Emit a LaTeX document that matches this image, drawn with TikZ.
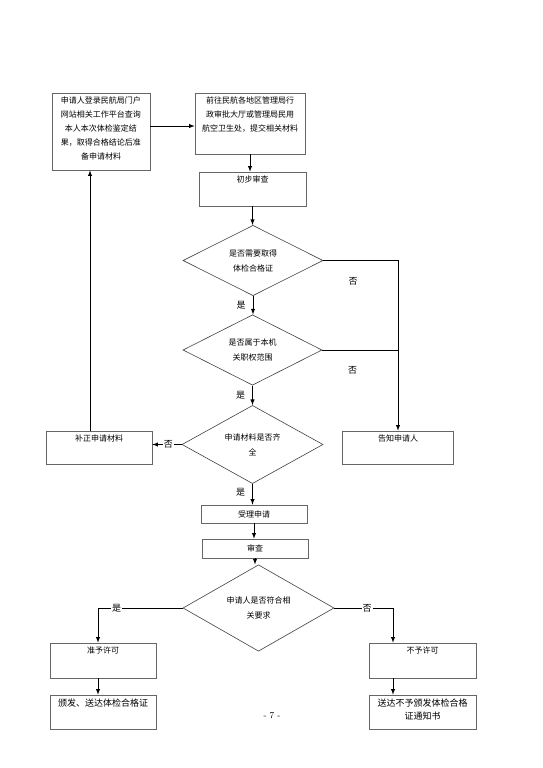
\documentclass[tikz,border=0pt]{standalone}
\usepackage{fontspec}
\newfontfamily\cjk{Noto Sans CJK SC}
\usetikzlibrary{arrows,shapes.geometric,positioning}

% box text: fixed size, lines set from the top
\newcommand{\boxlines}[3]{\parbox[c][#2][t]{#1}{\centering\vspace*{4pt}#3}}

\begin{document}
\begin{tikzpicture}[
x=1pt,y=-1pt,
font=\cjk\fontsize{8}{14}\selectfont,
procbox/.style={draw=black!60,line width=0.6pt,rectangle,inner sep=0pt},
choice/.style={draw=black!75,line width=0.6pt,diamond,inner sep=0pt,align=center,
  font=\cjk\fontsize{8}{15}\selectfont},
flow/.style={->,>=latex,line width=0.95pt},
joint/.style={line width=0.8pt},
tag/.style={font=\cjk\fontsize{9}{9}\selectfont,inner sep=1pt}]
    \useasboundingbox (0,0) rectangle (543,768);

    % helper coordinates for offset connectors
    \coordinate (handy) at (0,126);
    \coordinate (backx) at (90,0);
    \coordinate (yesx) at (98,0);
    \coordinate (nox) at (393,0);

    % Boxes
    \node[procbox] (login) at (101,131.5)
        {\boxlines{98pt}{77pt}{申请人登录民航局门户\\网站相关工作平台查询\\本人本次体检鉴定结\\果，取得合格结论后准\\备申请材料}};
    \node[procbox] (apply) at (250,123.5)
        {\boxlines{110pt}{61pt}{前往民航各地区管理局行\\政审批大厅或管理局民用\\航空卫生处，提交相关材料}};
    \node[procbox] (precheck) at (252.5,189)
        {\boxlines{107pt}{34pt}{初步审查}};
    \node[choice,minimum width=140pt,minimum height=69pt] (need) at (253,260.5)
        {是否需要取得\\体检合格证};
    \node[choice,minimum width=139pt,minimum height=66pt] (remit) at (252.5,350)
        {是否属于本机\\关职权范围};
    \node[choice,minimum width=141pt,minimum height=69pt] (complete) at (252.5,444.5)
        {申请材料是否齐\\全};
    \node[procbox] (fix) at (99,447.5)
        {\boxlines{106pt}{33pt}{补正申请材料}};
    \node[procbox] (tell) at (398,447.5)
        {\boxlines{111pt}{33pt}{告知申请人}};
    \node[procbox] (accept) at (254,514)
        {\parbox[c][18pt][c]{106pt}{\centering 受理申请}};
    \node[procbox] (review) at (255,548.5)
        {\parbox[c][19pt][c]{106pt}{\centering 审查}};
    \node[choice,minimum width=151pt,minimum height=68pt] (meet) at (258.5,608)
        {申请人是否符合相\\关要求};
    \node[procbox] (grant) at (103,660.5)
        {\boxlines{106pt}{35pt}{准予许可}};
    \node[procbox] (deny) at (422.5,660.5)
        {\boxlines{107pt}{35pt}{不予许可}};
    \node[procbox,font=\cjk\fontsize{9}{13}\selectfont] (issue) at (103,712)
        {\boxlines{106pt}{34pt}{颁发、送达体检合格证}};
    \node[procbox,font=\cjk\fontsize{9}{13}\selectfont] (notice) at (422.5,712)
        {\boxlines{107pt}{34pt}{送达不予颁发体检合格\\证通知书}};

    \node[font=\rmfamily\fontsize{9}{9}\selectfont] (pagenum) at (272,716) {- 7 -};

    % Connectors
    \draw[flow] (login.east |- handy) -- (apply.west |- handy);
    \draw[flow] (apply.south) -- (apply.south |- precheck.north);
    \draw[flow] (precheck.south) -- (precheck.south |- need.north);
    \draw[flow] (need.south) -- node[tag,left=6pt]{是} (need.south |- remit.north);
    \draw[flow] (remit.south) -- node[tag,left=6pt]{是} (remit.south |- complete.north);
    \draw[flow] (need.east) -- node[tag,pos=0.4,below=15pt]{否} (need.east -| tell.north) -- (tell.north);
    \draw[joint] (remit.east) -- node[tag,pos=0.4,below=15pt]{否} (remit.east -| tell.north);
    \draw[flow] (complete.west) -- node[tag,fill=white,pos=0.45]{否} (complete.west -| fix.east);
    \draw[flow] (fix.north -| backx) -- (login.south -| backx);
    \draw[flow] (complete.south) -- node[tag,left=6pt,pos=0.4]{是} (complete.south |- accept.north);
    \draw[flow] (accept.south) -- (accept.south |- review.north);
    \draw[flow] (review.south) -- (review.south |- meet.north);
    \draw[flow] (meet.west) -- node[tag,fill=white,pos=0.78]{是} (meet.west -| yesx) -- (grant.north -| yesx);
    \draw[flow] (meet.east) -- node[tag,fill=white,pos=0.56]{否} (meet.east -| nox) -- (deny.north -| nox);
    \draw[flow] (grant.south -| yesx) -- (issue.north -| yesx);
    \draw[flow] (deny.south -| nox) -- (notice.north -| nox);

\end{tikzpicture}
\end{document}
